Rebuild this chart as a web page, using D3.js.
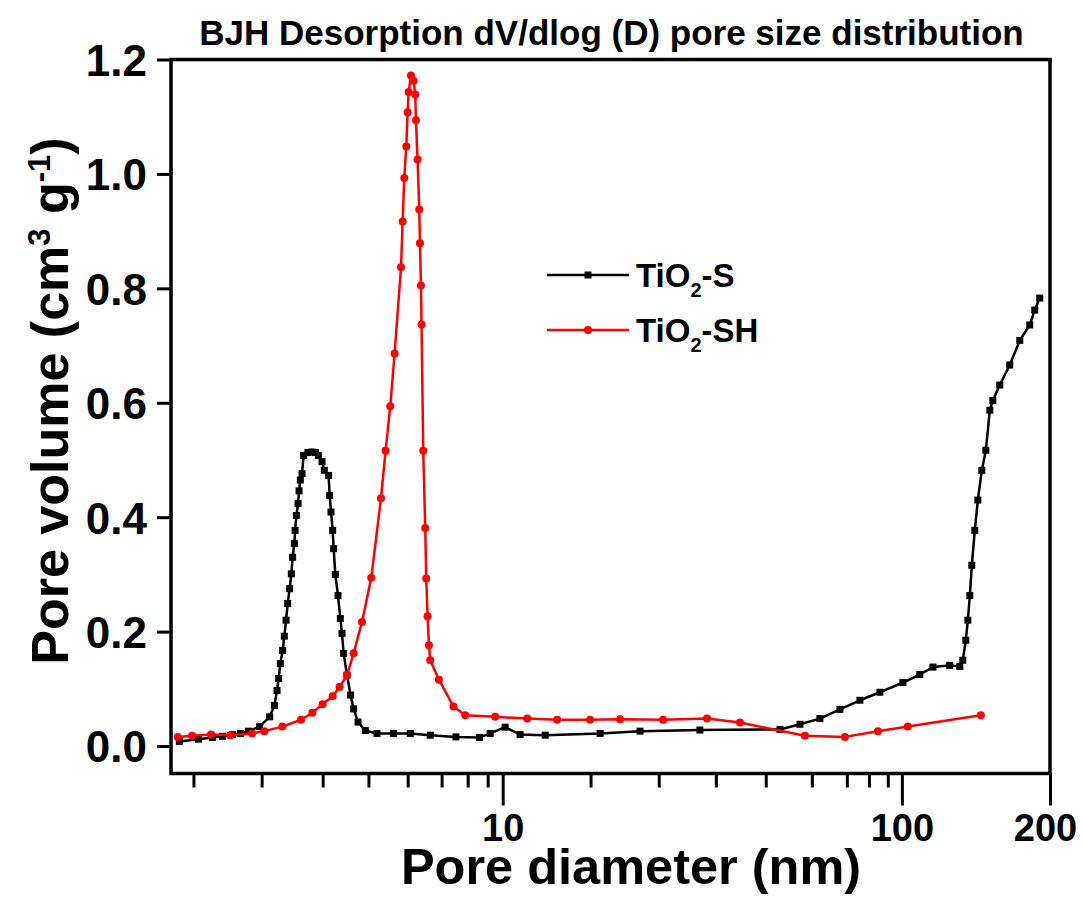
<!DOCTYPE html>
<html>
<head>
<meta charset="utf-8">
<script src="https://cdn.jsdelivr.net/npm/d3@7/dist/d3.min.js"></script>
<style>
  html, body { margin: 0; padding: 0; background: #ffffff; }
  svg { display: block; font-family: "Liberation Sans", Arial, sans-serif; font-weight: bold; }
</style>
</head>
<body>
<svg id="chart" width="1083" height="901"></svg>
<script>
// BJH desorption dV/dlog(D) pore size distribution, two TiO2 samples

// TiO2-S : pore diameter (nm) and pore volume (cm3/g)
const sDiameter = [1.549, 1.729, 1.874, 1.986, 2.103, 2.203, 2.307, 2.461, 2.608, 2.679, 2.721, 2.747, 2.773,
  2.810, 2.838, 2.866, 2.893, 2.926, 2.955, 2.977, 3.007, 3.019, 3.042, 3.072, 3.090, 3.112, 3.143, 3.172,
  3.250, 3.330, 3.394, 3.453, 3.527, 3.574, 3.664, 3.686, 3.715, 3.750, 3.772, 3.808, 3.868, 3.920, 3.958,
  3.995, 4.074, 4.159, 4.232, 4.341, 4.528, 4.843, 5.330, 5.869, 6.585, 7.636, 8.748, 9.305, 10.14, 11.06,
  12.78, 17.54, 22.08, 31.19, 49.5, 55.55, 62.34, 69.96, 78.5, 88.1, 100.6, 110.9, 119.6, 131.8, 139.7,
  142.1, 144.6, 146.3, 148.0, 149.7, 152.3, 155.0, 158.6, 162.3, 166.1, 169.0, 175.9, 186.3, 197.4, 209.1,
  215.2, 221.5];
const sVolume = [0.008, 0.012, 0.015, 0.017, 0.020, 0.022, 0.026, 0.034, 0.051, 0.071, 0.097, 0.118, 0.144,
  0.167, 0.192, 0.220, 0.249, 0.275, 0.301, 0.330, 0.354, 0.377, 0.403, 0.424, 0.446, 0.465, 0.476, 0.508,
  0.513, 0.514, 0.513, 0.508, 0.497, 0.482, 0.473, 0.438, 0.409, 0.377, 0.345, 0.300, 0.263, 0.223, 0.197,
  0.162, 0.124, 0.089, 0.065, 0.042, 0.027, 0.022, 0.022, 0.022, 0.019, 0.016, 0.015, 0.022, 0.033, 0.020,
  0.019, 0.022, 0.026, 0.028, 0.029, 0.038, 0.048, 0.064, 0.080, 0.094, 0.111, 0.125, 0.138, 0.141, 0.139,
  0.150, 0.185, 0.220, 0.263, 0.316, 0.377, 0.430, 0.482, 0.517, 0.587, 0.604, 0.631, 0.666, 0.709, 0.736,
  0.762, 0.783];

// TiO2-SH : pore diameter (nm) and pore volume (cm3/g)
const shDiameter = [1.535, 1.667, 1.860, 2.079, 2.356, 2.529, 2.805, 3.125, 3.336, 3.539, 3.750, 3.904, 4.074,
  4.232, 4.443, 4.686, 4.956, 5.089, 5.229, 5.361, 5.563, 5.615, 5.669, 5.735, 5.779, 5.813, 5.892, 5.982,
  6.039, 6.063, 6.119, 6.180, 6.205, 6.241, 6.262, 6.324, 6.397, 6.434, 6.484, 6.536, 6.585, 6.922, 7.530,
  8.056, 9.58, 11.52, 13.69, 16.56, 19.68, 25.22, 32.50, 39.31, 57.17, 72.0, 87.1, 103.5, 157.7];
const shVolume = [0.016, 0.018, 0.020, 0.019, 0.022, 0.026, 0.034, 0.046, 0.058, 0.073, 0.087, 0.103, 0.124,
  0.162, 0.217, 0.294, 0.433, 0.516, 0.594, 0.686, 0.837, 0.917, 0.993, 1.048, 1.108, 1.143, 1.172, 1.163,
  1.139, 1.094, 1.025, 0.938, 0.879, 0.805, 0.737, 0.516, 0.381, 0.293, 0.227, 0.176, 0.150, 0.116, 0.069,
  0.054, 0.051, 0.048, 0.046, 0.046, 0.047, 0.046, 0.048, 0.041, 0.018, 0.016, 0.026, 0.034, 0.054];

// Axis ranges and ticks
const xRange = [1.476, 235];
const yRange = [-0.048, 1.2];
const xMajorTicks = [10, 100, 235];
const xMajorLabels = ["10", "100", "200"];
const xMinorTicks = [1.68, 2.49, 3.54, 4.61, 5.78, 7.03, 8.17, 9.17,
  16.6, 24.6, 34.2, 45.6, 59.5, 72.8, 82.7, 92.2];
const yTicks = [0, 0.2, 0.4, 0.6, 0.8, 1.0, 1.2];

const titleText = "BJH Desorption dV/dlog (D) pore size distribution";

const svg = d3.select("#chart");
const plot = { left: 171, right: 1050, top: 59.5, bottom: 773.5 };

const x = d3.scaleLog().domain(xRange).range([plot.left, plot.right]);
const y = d3.scaleLinear().domain(yRange).range([plot.bottom, plot.top]);

// background
svg.append("rect").attr("width", 1083).attr("height", 901).attr("fill", "#ffffff");

// title
svg.append("text")
  .attr("x", 611.5).attr("y", 45)
  .attr("text-anchor", "middle")
  .attr("font-size", 35)
  .attr("fill", "#000")
  .text(titleText);

// x axis: minor ticks
const xMinorAxis = d3.axisBottom(x).tickValues(xMinorTicks).tickSize(14).tickFormat("");
svg.append("g").attr("transform", `translate(0,${plot.bottom})`).call(xMinorAxis)
  .call(g => g.select(".domain").remove())
  .call(g => g.selectAll(".tick line").attr("stroke", "#000").attr("stroke-width", 3));

// x axis: major ticks with labels (the end label sits slightly inside the frame corner)
const xMajorAxis = d3.axisBottom(x).tickValues(xMajorTicks).tickSize(32)
  .tickFormat((d, i) => xMajorLabels[i]);
svg.append("g").attr("transform", `translate(0,${plot.bottom})`).call(xMajorAxis)
  .call(g => g.select(".domain").remove())
  .call(g => g.selectAll(".tick line").attr("stroke", "#000").attr("stroke-width", 3))
  .call(g => g.selectAll(".tick text")
    .attr("y", 67).attr("dy", null)
    .attr("dx", (d, i) => i === xMajorTicks.length - 1 ? -5 : 0)
    .attr("fill", "#000")
    .attr("font-size", 38)
    .attr("font-family", "'Liberation Sans', Arial, sans-serif")
    .attr("font-weight", "bold"));

// y axis
const yAxis = d3.axisLeft(y).tickValues(yTicks).tickSize(14).tickFormat(d3.format(".1f"));
svg.append("g").attr("transform", `translate(${plot.left},0)`).call(yAxis)
  .call(g => g.select(".domain").remove())
  .call(g => g.selectAll(".tick line").attr("stroke", "#000").attr("stroke-width", 3))
  .call(g => g.selectAll(".tick text")
    .attr("x", -24).attr("dy", "0.36em")
    .attr("fill", "#000")
    .attr("font-size", 44)
    .attr("font-family", "'Liberation Sans', Arial, sans-serif")
    .attr("font-weight", "bold"));

// frame
svg.append("rect")
  .attr("x", plot.left).attr("y", plot.top)
  .attr("width", plot.right - plot.left).attr("height", plot.bottom - plot.top)
  .attr("fill", "none").attr("stroke", "#000").attr("stroke-width", 3.5);

// axis titles
svg.append("text")
  .attr("x", 631).attr("y", 884)
  .attr("text-anchor", "middle")
  .attr("font-size", 50.5)
  .attr("fill", "#000")
  .text("Pore diameter (nm)");

const yTitle = svg.append("text")
  .attr("transform", "translate(68,401) rotate(-90)")
  .attr("text-anchor", "middle")
  .attr("font-size", 52)
  .attr("fill", "#000");
yTitle.append("tspan").text("Pore volume (cm");
yTitle.append("tspan").attr("font-size", 31).attr("dy", -18).text("3");
yTitle.append("tspan").attr("dy", 18).text(" g");
yTitle.append("tspan").attr("font-size", 31).attr("dy", -18).text("-1");
yTitle.append("tspan").attr("dy", 18).text(")");

// series
const series = [
  { name: ["TiO", "2", "-S"], xs: sDiameter, ys: sVolume, color: "#000000", marker: "square" },
  { name: ["TiO", "2", "-SH"], xs: shDiameter, ys: shVolume, color: "#ff0000", marker: "circle" }
];

const line = d3.line().x(d => x(d[0])).y(d => y(d[1]));

function drawMarker(g, px, py, s) {
  if (s.marker === "square") {
    g.append("rect").attr("x", px - 3.5).attr("y", py - 3.5).attr("width", 7).attr("height", 7)
      .attr("fill", s.color);
  } else {
    g.append("circle").attr("cx", px).attr("cy", py).attr("r", 4).attr("fill", s.color);
  }
}

series.forEach(s => {
  const pts = s.xs.map((d, i) => [d, s.ys[i]]);
  const g = svg.append("g");
  g.append("path").datum(pts).attr("d", line)
    .attr("fill", "none").attr("stroke", s.color).attr("stroke-width", 2.5)
    .attr("stroke-linejoin", "round");
  pts.forEach(p => drawMarker(g, x(p[0]), y(p[1]), s));
});

// legend
const legend = svg.append("g");
series.forEach((s, i) => {
  const ly = 275 + i * 55;
  legend.append("line").attr("x1", 547).attr("x2", 629).attr("y1", ly).attr("y2", ly)
    .attr("stroke", s.color).attr("stroke-width", 2.5);
  drawMarker(legend, 588, ly, s);
  const t = legend.append("text").attr("x", 636).attr("y", ly + 12)
    .attr("font-size", 33).attr("fill", "#000");
  t.append("tspan").text(s.name[0]);
  t.append("tspan").attr("font-size", 20).attr("dy", 10).text(s.name[1]);
  t.append("tspan").attr("dy", -10).text(s.name[2]);
});
</script>
</body>
</html>
